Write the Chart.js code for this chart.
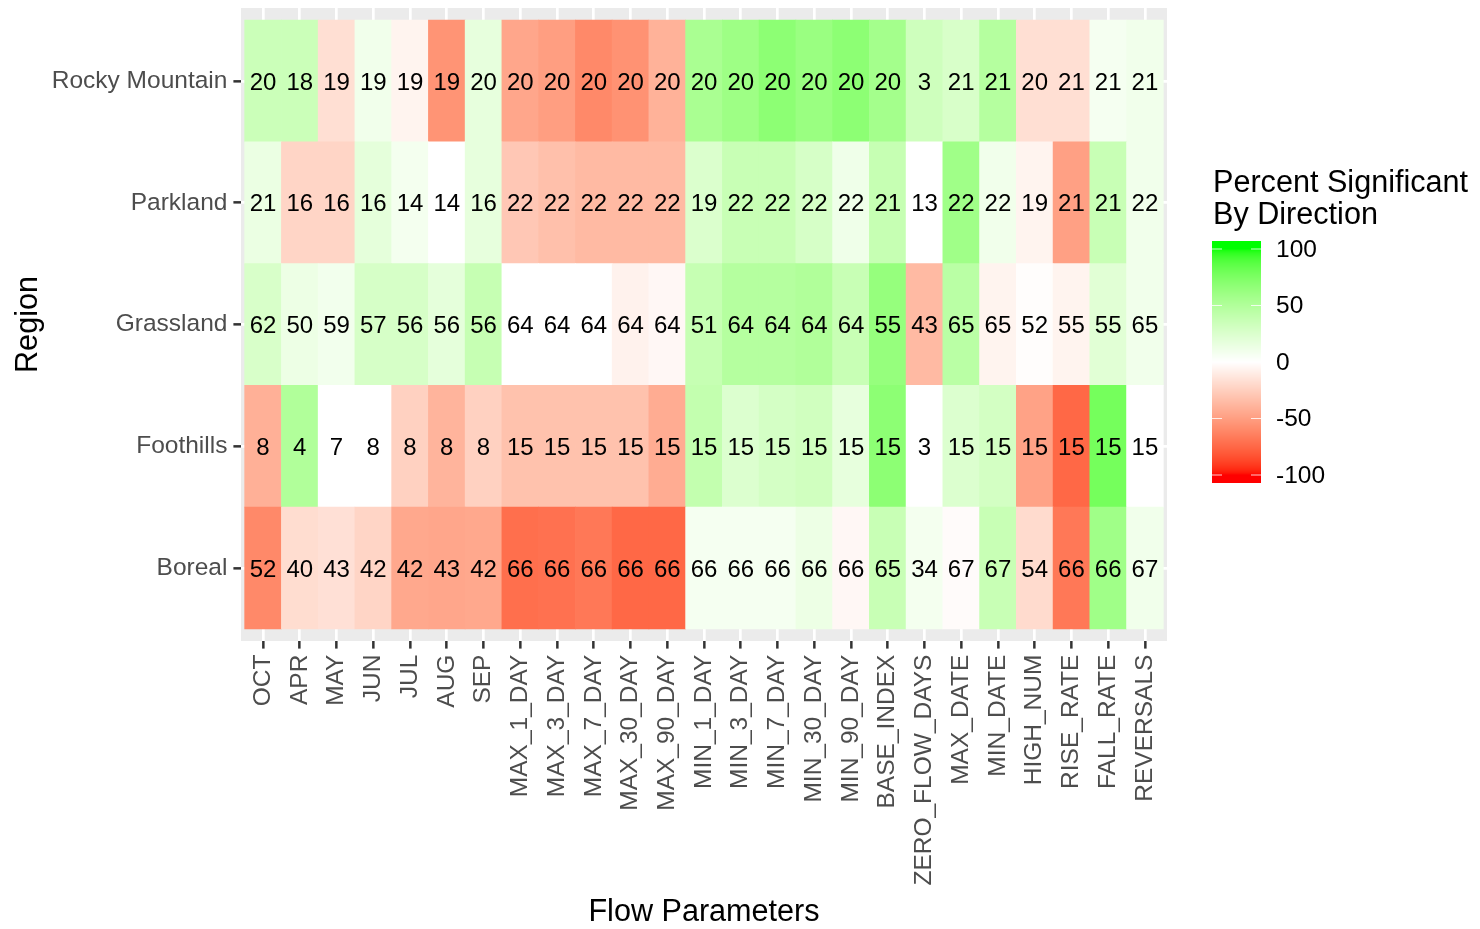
<!DOCTYPE html>
<html>
<head>
<meta charset="utf-8">
<script src="https://cdn.jsdelivr.net/npm/chart.js@4.4.1/dist/chart.umd.min.js"></script>
<style>
  body { margin: 0; background: #fff; }
</style>
</head>
<body>
<canvas id="heatmap" width="1480" height="929"></canvas>
<script>
const params = ['OCT', 'APR', 'MAY', 'JUN', 'JUL', 'AUG', 'SEP',
  'MAX_1_DAY', 'MAX_3_DAY', 'MAX_7_DAY', 'MAX_30_DAY', 'MAX_90_DAY',
  'MIN_1_DAY', 'MIN_3_DAY', 'MIN_7_DAY', 'MIN_30_DAY', 'MIN_90_DAY',
  'BASE_INDEX', 'ZERO_FLOW_DAYS', 'MAX_DATE', 'MIN_DATE', 'HIGH_NUM',
  'RISE_RATE', 'FALL_RATE', 'REVERSALS'];
const regions = ['Rocky Mountain', 'Parkland', 'Grassland', 'Foothills', 'Boreal'];

// percent significant by direction (tile colour)
const pctRockyMountain = [35, 35, -17, 10, -6, -55, 17, -46, -50, -60, -56, -40, 54, 60, 68, 62, 68, 57, 33, 27, 48, -17, -17, 7, 10];
const pctParkland      = [14, -22, -22, 18, 8, 0, 17, -29, -33, -36, -36, -36, 25, 37, 37, 28, 11, 38, 0, 59, 10, -6, -49, 37, 10];
const pctGrassland     = [27, 13, 9, 28, 28, 18, 38, 0, 0, 0, -7, -4, 38, 48, 48, 50, 37, 64, -36, 45, -6, -1, -6, 21, 10];
const pctFoothills     = [-41, 50, 0, 0, -24, -39, -24, -32, -32, -32, -32, -43, 40, 24, 29, 32, 17, 68, 0, 24, 30, -48, -75, 78, 0];
const pctBoreal        = [-60, -18, -16, -22, -45, -46, -45, -72, -71, -68, -75, -75, 7, 7, 7, 13, -4, 37, 8, -2, 37, -19, -68, 59, 10];

// number of stations (tile text)
const nRockyMountain = [20, 18, 19, 19, 19, 19, 20, 20, 20, 20, 20, 20, 20, 20, 20, 20, 20, 20, 3, 21, 21, 20, 21, 21, 21];
const nParkland      = [21, 16, 16, 16, 14, 14, 16, 22, 22, 22, 22, 22, 19, 22, 22, 22, 22, 21, 13, 22, 22, 19, 21, 21, 22];
const nGrassland     = [62, 50, 59, 57, 56, 56, 56, 64, 64, 64, 64, 64, 51, 64, 64, 64, 64, 55, 43, 65, 65, 52, 55, 55, 65];
const nFoothills     = [8, 4, 7, 8, 8, 8, 8, 15, 15, 15, 15, 15, 15, 15, 15, 15, 15, 15, 3, 15, 15, 15, 15, 15, 15];
const nBoreal        = [52, 40, 43, 42, 42, 43, 42, 66, 66, 66, 66, 66, 66, 66, 66, 66, 66, 65, 34, 67, 67, 54, 66, 66, 67];

const legendBreaks = [100, 50, 0, -50, -100];

const pctRows = [pctRockyMountain, pctParkland, pctGrassland, pctFoothills, pctBoreal];
const nRows = [nRockyMountain, nParkland, nGrassland, nFoothills, nBoreal];

const FONT = '"Liberation Sans", Arial, sans-serif';

// red - white - green, interpolated in CIE Lab like scale_fill_gradient2
function toLin(c) { c /= 255; return c <= 0.04045 ? c / 12.92 : Math.pow((c + 0.055) / 1.055, 2.4); }
function fromLin(c) {
  c = c <= 0.0031308 ? 12.92 * c : 1.055 * Math.pow(c, 1 / 2.4) - 0.055;
  return Math.round(Math.max(0, Math.min(1, c)) * 255);
}
function rgbToLab(rgb) {
  const r = toLin(rgb[0]), g = toLin(rgb[1]), b = toLin(rgb[2]);
  const x = (0.4124564 * r + 0.3575761 * g + 0.1804375 * b) / 0.95047;
  const y = 0.2126729 * r + 0.7151522 * g + 0.0721750 * b;
  const z = (0.0193339 * r + 0.1191920 * g + 0.9503041 * b) / 1.08883;
  const f = t => t > 0.008856 ? Math.cbrt(t) : 7.787 * t + 16 / 116;
  const fx = f(x), fy = f(y), fz = f(z);
  return [116 * fy - 16, 500 * (fx - fy), 200 * (fy - fz)];
}
function labToRgb(lab) {
  const fy = (lab[0] + 16) / 116, fx = fy + lab[1] / 500, fz = fy - lab[2] / 200;
  const inv = t => t * t * t > 0.008856 ? t * t * t : (t - 16 / 116) / 7.787;
  const x = inv(fx) * 0.95047, y = inv(fy), z = inv(fz) * 1.08883;
  const r = 3.2404542 * x - 1.5371385 * y - 0.4985314 * z;
  const g = -0.9692660 * x + 1.8760108 * y + 0.0415560 * z;
  const b = 0.0556434 * x - 0.2040259 * y + 1.0572252 * z;
  return 'rgb(' + fromLin(r) + ',' + fromLin(g) + ',' + fromLin(b) + ')';
}
const LAB_WHITE = rgbToLab([255, 255, 255]);
const LAB_RED = rgbToLab([255, 0, 0]);
const LAB_GREEN = rgbToLab([0, 255, 0]);
function fillFor(v) {
  let t = Math.max(-1, Math.min(1, v / 100));
  const end = t < 0 ? LAB_RED : LAB_GREEN;
  t = Math.abs(t);
  return labToRgb([0, 1, 2].map(i => LAB_WHITE[i] + (end[i] - LAB_WHITE[i]) * t));
}

// one floating bar per tile
const cells = [];
regions.forEach((reg, r) => {
  params.forEach((p, i) => {
    const row = regions.length - r;
    cells.push({x: i, y: [row - 0.5, row + 0.5], pct: pctRows[r][i], n: nRows[r][i]});
  });
});

const panelBg = {
  id: 'panelBg',
  beforeDraw(chart) {
    const {ctx, chartArea: a} = chart;
    ctx.save();
    ctx.fillStyle = '#EBEBEB';
    ctx.fillRect(a.left, a.top, a.right - a.left, a.bottom - a.top);
    ctx.restore();
  }
};

const cellText = {
  id: 'cellText',
  afterDatasetsDraw(chart) {
    const ctx = chart.ctx;
    const meta = chart.getDatasetMeta(0);
    ctx.save();
    ctx.font = '24px ' + FONT;
    ctx.fillStyle = '#000000';
    ctx.textAlign = 'center';
    ctx.textBaseline = 'alphabetic';
    meta.data.forEach((bar, k) => {
      const c = bar.getCenterPoint();
      ctx.fillText(String(cells[k].n), c.x, c.y + 24 * 0.358);
    });
    ctx.restore();
  }
};

// colourbar legend
const colourBar = {
  id: 'colourBar',
  afterDraw(chart) {
    const ctx = chart.ctx;
    const x0 = 1212, w = 49, top = 241, bottom = 483;
    const zeroY = 362, perUnit = 1.13;
    ctx.save();
    for (let y = top; y < bottom; y++) {
      ctx.fillStyle = fillFor((zeroY - (y + 0.5)) / perUnit);
      ctx.fillRect(x0, y, w, 1);
    }
    ctx.strokeStyle = 'rgba(255,255,255,0.8)';
    ctx.lineWidth = 1;
    ctx.font = '24.5px ' + FONT;
    ctx.fillStyle = '#000000';
    ctx.textAlign = 'left';
    ctx.textBaseline = 'middle';
    legendBreaks.forEach(v => {
      const y = zeroY - v * perUnit;
      ctx.beginPath();
      ctx.moveTo(x0, y); ctx.lineTo(x0 + 10, y);
      ctx.moveTo(x0 + w - 10, y); ctx.lineTo(x0 + w, y);
      ctx.stroke();
      ctx.fillText(String(v), 1276, y + 1);
    });
    ctx.font = '30.6px ' + FONT;
    ctx.textBaseline = 'alphabetic';
    ctx.fillText('Percent Significant', 1213, 192);
    ctx.fillText('By Direction', 1213, 224);
    ctx.restore();
  }
};

const ctx = document.getElementById('heatmap').getContext('2d');
new Chart(ctx, {
  type: 'bar',
  data: {
    datasets: [{
      data: cells,
      backgroundColor: cells.map(c => fillFor(c.pct)),
      borderWidth: 0,
      barPercentage: 1,
      categoryPercentage: 1
    }]
  },
  options: {
    responsive: false,
    animation: false,
    layout: { padding: { left: 0, right: 313, top: 8, bottom: 0 } },
    plugins: {
      legend: { display: false },
      tooltip: { enabled: false }
    },
    scales: {
      x: {
        type: 'linear',
        offset: false,
        bounds: 'data',
        min: -0.6,
        max: params.length - 0.4,
        afterBuildTicks: s => { s.ticks = params.map((p, i) => ({value: i})); },
        afterFit: s => { s.height = 288; s.paddingLeft = 0; s.paddingRight = 0; },
        grid: { offset: false, color: '#FFFFFF', lineWidth: 2.7, tickColor: '#333333', tickWidth: 2.5, tickLength: 7.6 },
        border: { display: false },
        ticks: {
          autoSkip: false,
          minRotation: 90,
          maxRotation: 90,
          padding: 6,
          color: '#4D4D4D',
          font: { family: FONT, size: 24.5 },
          callback: v => params[v]
        },
        title: {
          display: true,
          text: 'Flow Parameters',
          color: '#000000',
          font: { family: FONT, size: 30.6, lineHeight: 1.05 },
          padding: 0
        }
      },
      y: {
        type: 'linear',
        offset: false,
        bounds: 'data',
        min: 0.4,
        max: regions.length + 0.6,
        afterBuildTicks: s => { s.ticks = regions.map((r, i) => ({value: i + 1})); },
        afterFit: s => { s.width = 241; s.paddingTop = 0; s.paddingBottom = 0; },
        grid: { offset: false, color: '#FFFFFF', lineWidth: 2.7, tickColor: '#333333', tickWidth: 2.5, tickLength: 7.6 },
        border: { display: false },
        ticks: {
          padding: 6,
          color: '#4D4D4D',
          font: { family: FONT, size: 24.5 },
          callback: v => regions[regions.length - v]
        },
        title: {
          display: true,
          text: 'Region',
          color: '#000000',
          font: { family: FONT, size: 30.6 },
          padding: { top: 10, bottom: 0 }
        }
      }
    }
  },
  plugins: [panelBg, cellText, colourBar]
});
</script>
</body>
</html>
